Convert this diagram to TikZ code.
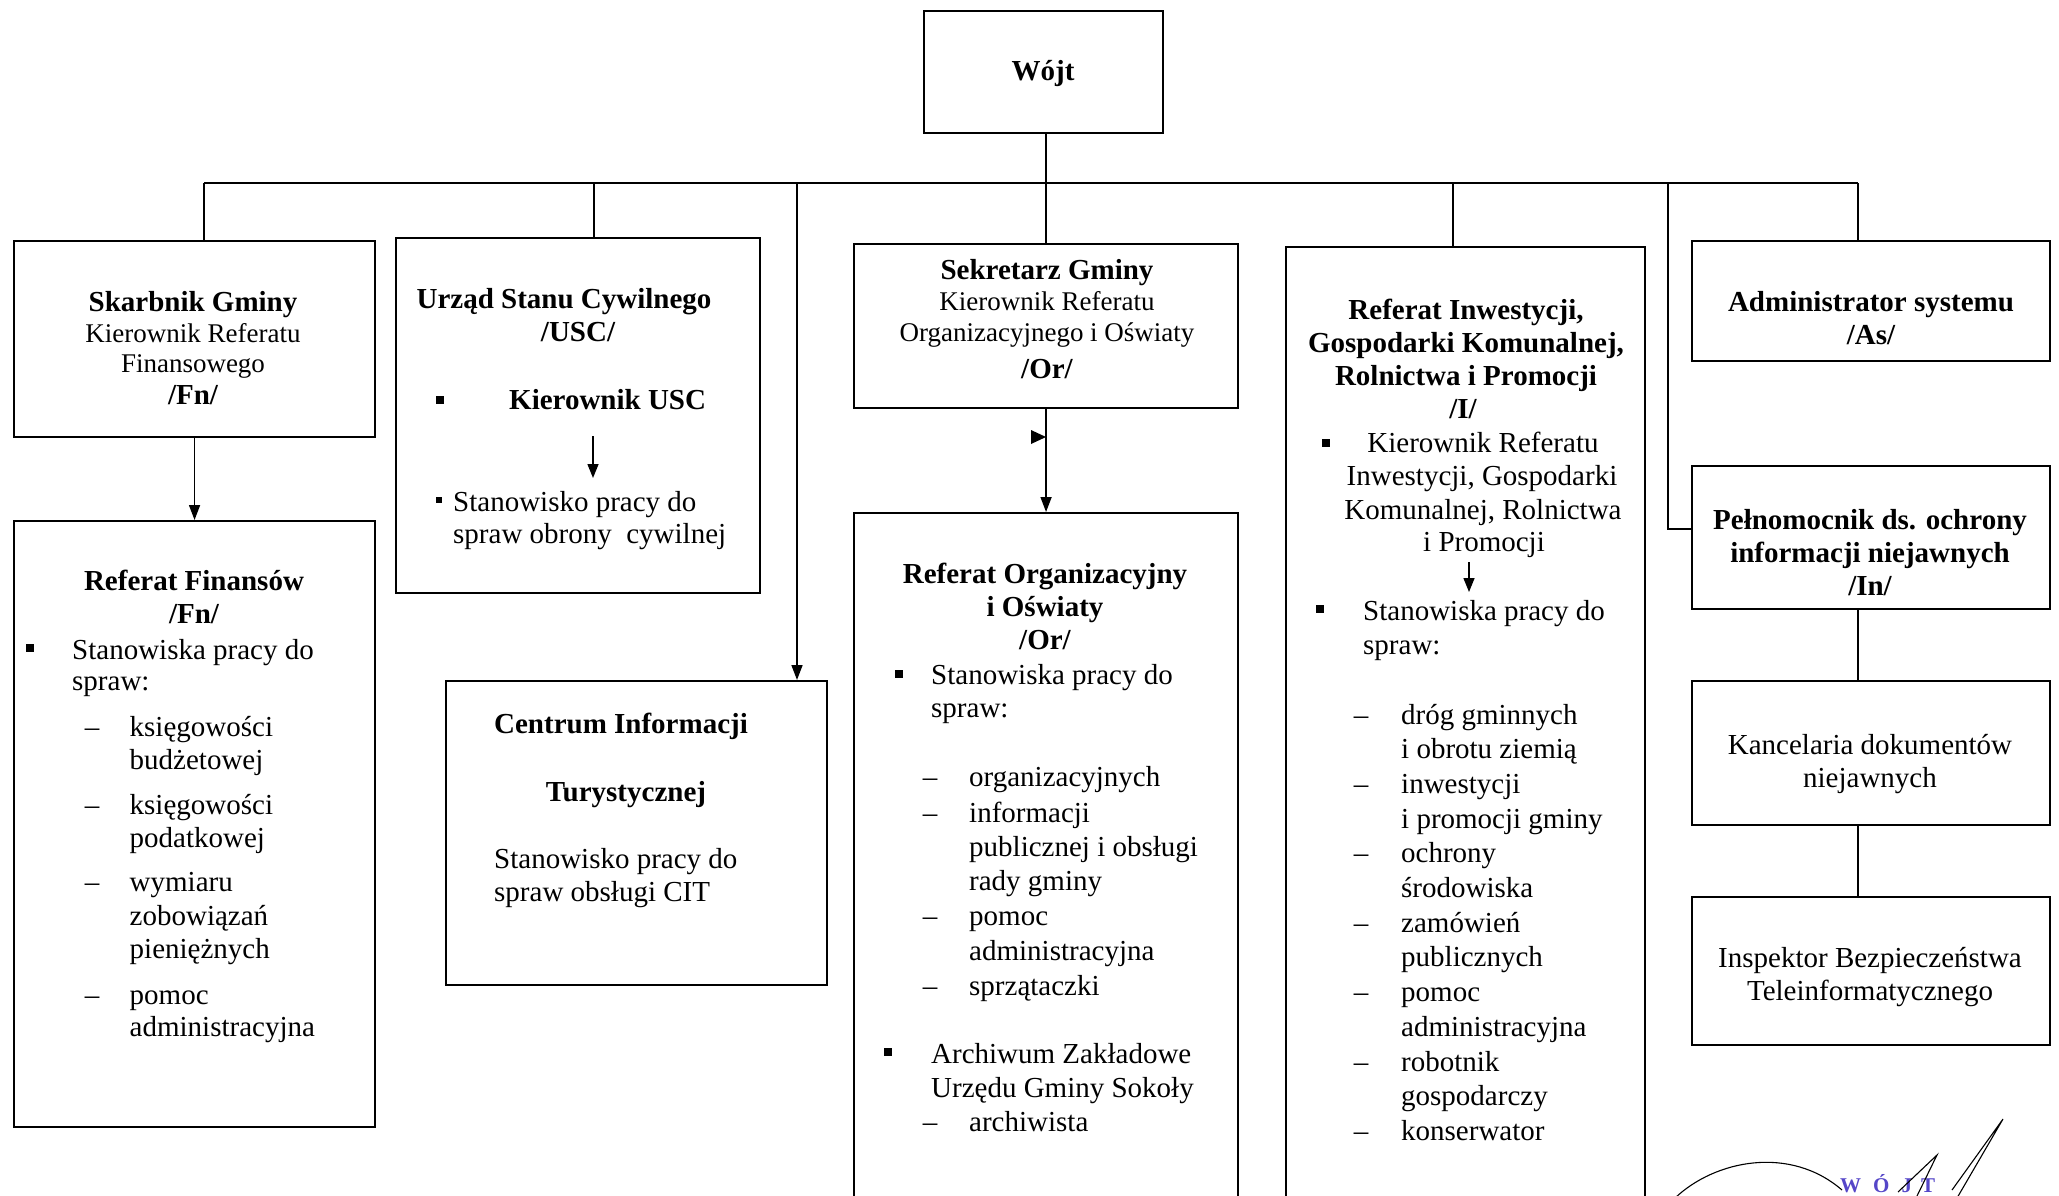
\documentclass[tikz,border=0pt]{standalone}
\usepackage{fontspec}
\setmainfont{Liberation Serif}
\usetikzlibrary{arrows.meta}
\definecolor{stampblue}{RGB}{85,70,200}
\begin{document}
\begin{tikzpicture}[x=1pt,y=-1pt,
  box/.style={draw, line width=2.1pt, inner sep=0pt, anchor=north west},
  tx/.style={inner sep=0pt, anchor=base, font=\fontsize{29}{34}\selectfont},
  ts/.style={inner sep=0pt, anchor=base, font=\fontsize{27}{31}\selectfont},
  tb/.style={inner sep=0pt, anchor=base, font=\fontsize{29}{34}\selectfont\bfseries},
  tl/.style={tx, anchor=base west},
  dsh/.style={tx, anchor=base},
  bul/.style={fill, inner sep=0pt, minimum size=8pt},
  buls/.style={fill, inner sep=0pt, minimum size=6pt},
  ln/.style={line width=1.6pt},
  bus/.style={line width=2.6pt},
  thin/.style={line width=1.2pt},
  arr/.style={line width=1.6pt, -{Triangle[length=15pt,width=11pt]}},
  sarr/.style={line width=1.4pt, -{Triangle[length=14pt,width=11pt]}}
]
\useasboundingbox (0,0) rectangle (2059,1195);

% ---------- boxes ----------
\node[box, minimum width=239pt, minimum height=122pt] (wojt) at (923,10) {};
\node[box, minimum width=361pt, minimum height=196pt] (sk)   at (13,240) {};
\node[box, minimum width=364pt, minimum height=355pt] (usc)  at (395,237) {};
\node[box, minimum width=384pt, minimum height=164pt] (sek)  at (853,243) {};
\node[box, minimum width=359pt, minimum height=990pt] (inw)  at (1285,246) {};
\node[box, minimum width=358pt, minimum height=120pt] (adm)  at (1691,240) {};
\node[box, minimum width=358pt, minimum height=143pt] (peln) at (1691,465) {};
\node[box, minimum width=358pt, minimum height=144pt] (kanc) at (1691,680) {};
\node[box, minimum width=358pt, minimum height=148pt] (insp) at (1691,896) {};
\node[box, minimum width=361pt, minimum height=606pt] (fn)   at (13,520) {};
\node[box, minimum width=381pt, minimum height=304pt] (cit)  at (445,680) {};
\node[box, minimum width=384pt, minimum height=730pt] (org)  at (853,512) {};

% ---------- bus and connectors ----------
\coordinate (bL) at (204,183);
\coordinate (bU) at (594,183);
\coordinate (bC) at (797,183);
\coordinate (bI) at (1453,183);
\coordinate (bP) at (1668,183);
\coordinate (bR) at (1858,183);
\coordinate (pJ) at (1691,529);
\draw[bus] (bL) -- (bR);
\draw[ln] (sek.north |- wojt.south) -- (sek.north);
\draw[ln] (bL) -- (bL |- sk.north);
\draw[ln] (bU) -- (bU |- usc.north);
\draw[arr] (bC) -- (bC |- cit.north);
\draw[ln] (bI) -- (bI |- inw.north);
\draw[ln] (bP) |- (pJ);
\draw[ln] (bR) -- (bR |- adm.north);
\draw[arr] (sk.south) -- (fn.north);
\draw[arr] (sek.south) -- (org.north);
\fill (1031,430) -- (1046,437) -- (1031,444) -- cycle;
\draw[thin] (bR |- peln.south) -- (bR |- kanc.north);
\draw[thin] (bR |- kanc.south) -- (bR |- insp.north);

% ---------- Wójt ----------
\node[tb] (wt) at (1043,80) {Wójt};

% ---------- Skarbnik ----------
\node[tb] (sk1) at (193,311) {Skarbnik Gminy};
\node[ts] (sk2) at (193,342) {Kierownik Referatu};
\node[ts] (sk3) at (193,372) {Finansowego};
\node[tb] (sk4) at (193,404) {/Fn/};

% ---------- USC ----------
\node[tb] (us1) at (564,308) {Urząd Stanu Cywilnego};
\node[tb] (us2) at (578,341) {/USC/};
\node[bul] (us3) at (440,400) {};
\node[tb, anchor=base west] (us4) at (509,409.5) {Kierownik USC};
\coordinate (ua1) at (593,436);
\coordinate (ua2) at (593,478);
\draw[sarr] (ua1) -- (ua2);
\node[buls] (us5) at (439,500) {};
\node[tl] (us6) at (453,511) {Stanowisko pracy do};
\node[tl] (us7) at (453,543.5) {spraw obrony\ \ cywilnej};

% ---------- Sekretarz ----------
\node[tb] (se1) at (1047,279) {Sekretarz Gminy};
\node[ts] (se2) at (1047,310) {Kierownik Referatu};
\node[ts] (se3) at (1047,341) {Organizacyjnego i Oświaty};
\node[tb] (se4) at (1047,378) {/Or/};

% ---------- Referat Inwestycji ----------
\node[tb] (in1) at (1466,319) {Referat Inwestycji,};
\node[tb] (in2) at (1466,352) {Gospodarki Komunalnej,};
\node[tb] (in3) at (1466,385) {Rolnictwa i Promocji};
\node[tb] (in4) at (1463,418) {/I/};
\node[bul] (in5) at (1326,443) {};
\node[tx] (in6) at (1483,452) {Kierownik Referatu};
\node[tx] (in7) at (1482,485.5) {Inwestycji, Gospodarki};
\node[tx] (in8) at (1483,519) {Komunalnej, Rolnictwa};
\node[tx] (in9) at (1484,551) {i Promocji};
\coordinate (ia1) at (1469,562);
\coordinate (ia2) at (1469,592);
\draw[sarr] (ia1) -- (ia2);
\node[bul] (in10) at (1320,609) {};
\node[tl] (in11) at (1363,620.5) {Stanowiska pracy do};
\node[tl] (in12) at (1363,654) {spraw:};
\node[dsh] (id1) at (1361,724) {–};
\node[tl] (il1) at (1401,724) {dróg gminnych};
\node[tl] (il2) at (1401,758.7) {i obrotu ziemią};
\node[dsh] (id2) at (1361,793.4) {–};
\node[tl] (il3) at (1401,793.4) {inwestycji};
\node[tl] (il4) at (1401,828.1) {i promocji gminy};
\node[dsh] (id3) at (1361,862.8) {–};
\node[tl] (il5) at (1401,862.8) {ochrony};
\node[tl] (il6) at (1401,897.5) {środowiska};
\node[dsh] (id4) at (1361,932.2) {–};
\node[tl] (il7) at (1401,932.2) {zamówień};
\node[tl] (il8) at (1401,966.9) {publicznych};
\node[dsh] (id5) at (1361,1001.6) {–};
\node[tl] (il9) at (1401,1001.6) {pomoc};
\node[tl] (il10) at (1401,1036.3) {administracyjna};
\node[dsh] (id6) at (1361,1071) {–};
\node[tl] (il11) at (1401,1071) {robotnik};
\node[tl] (il12) at (1401,1105.7) {gospodarczy};
\node[dsh] (id7) at (1361,1140.4) {–};
\node[tl] (il13) at (1401,1140.4) {konserwator};

% ---------- Administrator ----------
\node[tb] (ad1) at (1871,311) {Administrator systemu};
\node[tb] (ad2) at (1871,344) {/As/};

% ---------- Pełnomocnik ----------
\node[tb] (pe1) at (1870,529) {Pełnomocnik ds. ochrony};
\node[tb] (pe2) at (1870,562) {informacji niejawnych};
\node[tb] (pe3) at (1870,595) {/In/};

% ---------- Kancelaria / Inspektor ----------
\node[tx] (ka1) at (1870,754) {Kancelaria dokumentów};
\node[tx] (ka2) at (1870,787) {niejawnych};
\node[tx] (is1) at (1870,967) {Inspektor Bezpieczeństwa};
\node[tx] (is2) at (1870,1000) {Teleinformatycznego};

% ---------- Referat Finansów ----------
\node[tb] (fn1) at (194,590) {Referat Finansów};
\node[tb] (fn2) at (194,623) {/Fn/};
\node[bul] (fn3) at (29.5,648) {};
\node[tl] (fn4) at (72,659.5) {Stanowiska pracy do};
\node[tl] (fn5) at (72,690.6) {spraw:};
\node[dsh] (fd1) at (92,736) {–};
\node[tl] (fl1) at (129.5,736) {księgowości};
\node[tl] (fl2) at (129.5,769) {budżetowej};
\node[dsh] (fd2) at (92,814) {–};
\node[tl] (fl3) at (129.5,814) {księgowości};
\node[tl] (fl4) at (129.5,847) {podatkowej};
\node[dsh] (fd3) at (92,891) {–};
\node[tl] (fl5) at (129.5,891) {wymiaru};
\node[tl] (fl6) at (129.5,925) {zobowiązań};
\node[tl] (fl7) at (129.5,958) {pieniężnych};
\node[dsh] (fd4) at (92,1004) {–};
\node[tl] (fl8) at (129.5,1004) {pomoc};
\node[tl] (fl9) at (129.5,1036.5) {administracyjna};

% ---------- CIT ----------
\node[tb] (ci1) at (621,733) {Centrum Informacji};
\node[tb] (ci2) at (626,801) {Turystycznej};
\node[tl] (ci3) at (494,868) {Stanowisko pracy do};
\node[tl] (ci4) at (494,901) {spraw obsługi CIT};

% ---------- Referat Organizacyjny ----------
\node[tb] (or1) at (1045,583) {Referat Organizacyjny};
\node[tb] (or2) at (1045,616) {i Oświaty};
\node[tb] (or3) at (1045,649) {/Or/};
\node[bul] (or4) at (899,674) {};
\node[tl] (or5) at (931,684) {Stanowiska pracy do};
\node[tl] (or6) at (931,717) {spraw:};
\node[dsh] (od1) at (930,786) {–};
\node[tl] (ol1) at (969,786) {organizacyjnych};
\node[dsh] (od2) at (930,822) {–};
\node[tl] (ol2) at (969,822) {informacji};
\node[tl] (ol3) at (969,856) {publicznej i obsługi};
\node[tl] (ol4) at (969,890) {rady gminy};
\node[dsh] (od3) at (930,925.5) {–};
\node[tl] (ol5) at (969,925.5) {pomoc};
\node[tl] (ol6) at (969,960) {administracyjna};
\node[dsh] (od4) at (930,995) {–};
\node[tl] (ol7) at (969,995) {sprzątaczki};
\node[bul] (or7) at (888,1052) {};
\node[tl] (or8) at (931,1063) {Archiwum Zakładowe};
\node[tl] (or9) at (931,1097) {Urzędu Gminy Sokoły};
\node[dsh] (od5) at (930,1131) {–};
\node[tl] (ol8) at (969,1131) {archiwista};

% ---------- signature ----------
\node[inner sep=0pt, anchor=base west, text=stampblue, font=\fontsize{21}{21}\selectfont\bfseries] (stamp) at (1840,1192) {W\hspace{12pt}Ó\hspace{12pt}J\hspace{9pt}T};
\draw[line width=1.1pt] (1675,1198) .. controls (1715,1160) and (1790,1145) .. (1842,1190);
\draw[line width=1.1pt] (1898,1192) -- (1937,1155) -- (1916,1198);
\draw[line width=1.1pt] (1952,1190) -- (2003,1119) -- (1957,1198);
\end{tikzpicture}
\end{document}
